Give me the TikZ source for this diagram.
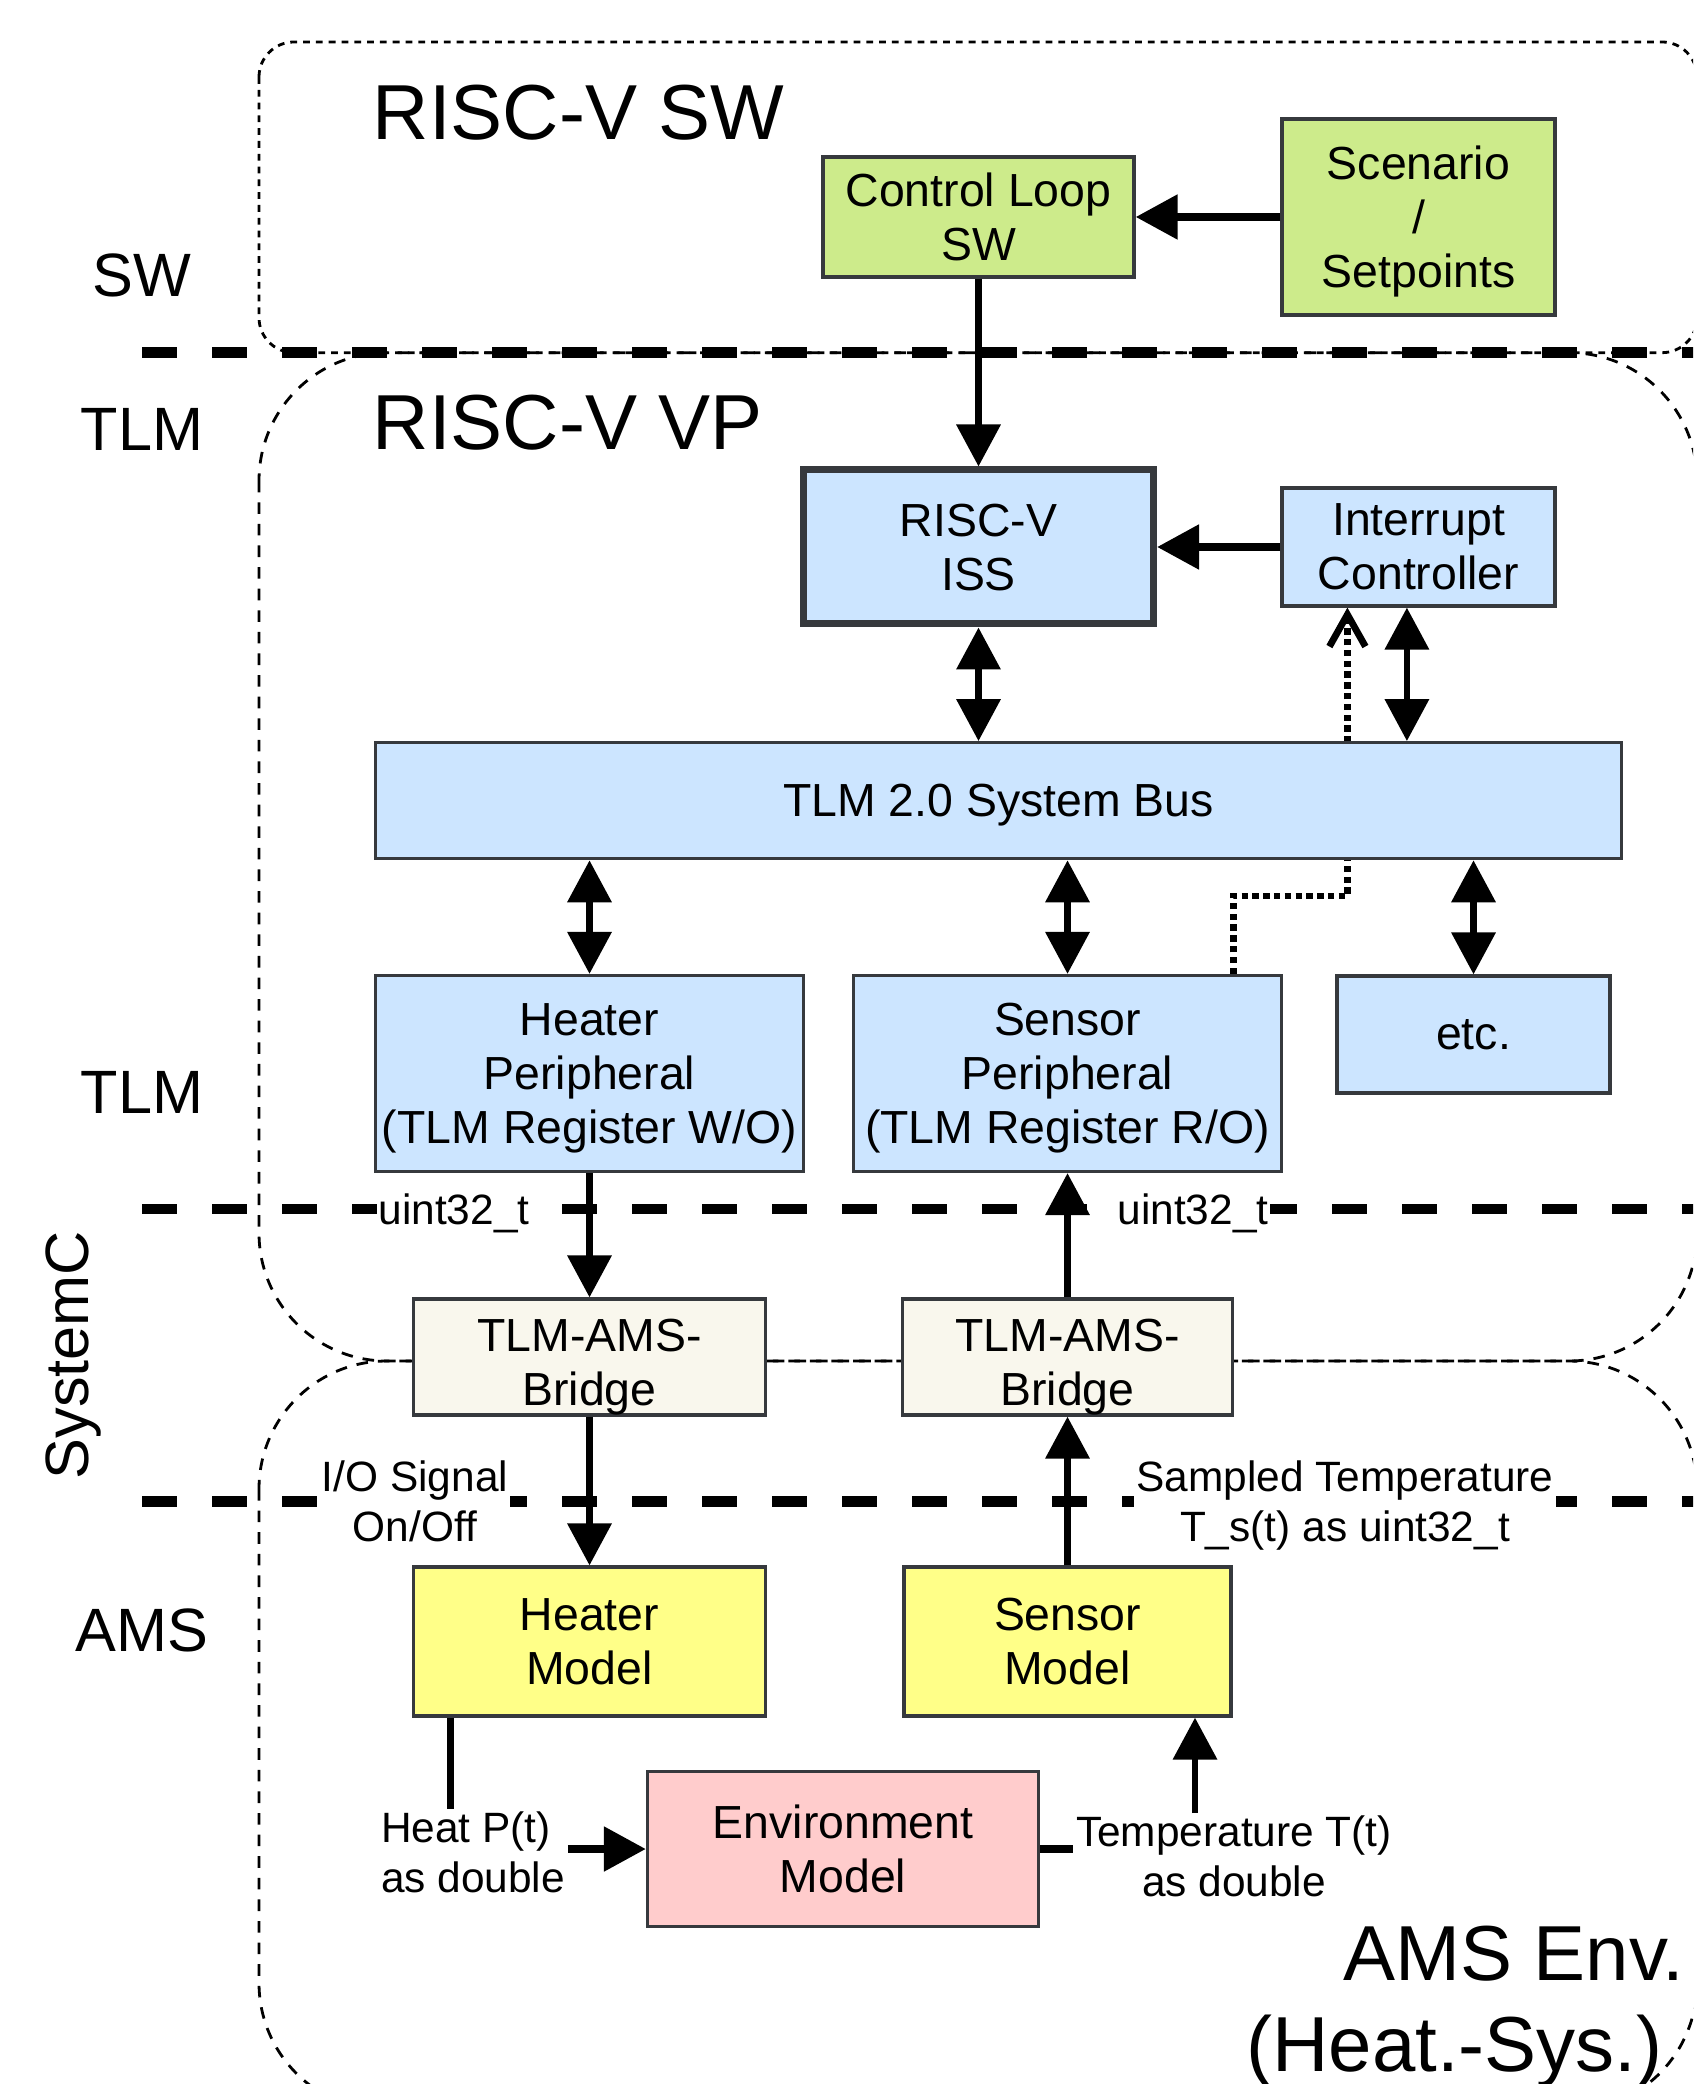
\documentclass[tikz,border=0pt]{standalone}
\usepackage{fontspec}
\setmainfont{Liberation Sans}
\usetikzlibrary{arrows.meta,backgrounds}

\definecolor{swgreen}{HTML}{CDEB8B}
\definecolor{vpblue}{HTML}{CCE5FF}
\definecolor{bridgecream}{HTML}{F9F7ED}
\definecolor{amsyellow}{HTML}{FFFF88}
\definecolor{envpink}{HTML}{FFCCCC}
\definecolor{edgegray}{HTML}{36393D}

\tikzset{
  blk/.style={draw=edgegray,line width=0.8pt,inner sep=0pt,text depth=0pt,align=center,font=\fontsize{11.6}{13.5}\selectfont},
  swblk/.style={blk,fill=swgreen},
  vpblk/.style={blk,fill=vpblue},
  brblk/.style={blk,fill=bridgecream,text height=24.4pt},
  amsblk/.style={blk,fill=amsyellow},
  envblk/.style={blk,fill=envpink},
  conn/.style={line width=1.7pt,-{Triangle[length=10.5pt,width=10.75pt]}},
  bidir/.style={line width=1.7pt,{Triangle[length=10.5pt,width=10.75pt]}-{Triangle[length=10.5pt,width=10.75pt]}},
  thickconn/.style={line width=2.1pt,-{Triangle[length=10.5pt,width=10.75pt]}},
  irqline/.style={line width=1.7pt,dash pattern=on 1.6pt off 1.1pt,-{Straight Barb[length=8pt,width=9pt]}},
  sigtext/.style={fill=white,inner sep=0.5pt,text depth=0pt,align=center,font=\fontsize{10.6}{12.4}\selectfont},
  layertext/.style={font=\fontsize{15.3}{18}\selectfont},
  grouptext/.style={inner sep=0pt,font=\fontsize{19.5}{22.75}\selectfont},
  layerline/.style={line width=2.7pt,dash pattern=on 8.75pt off 8.75pt},
  swgroup/.style={line width=0.7pt,dash pattern=on 1.7pt off 1.5pt,rounded corners=8.75pt},
  vpgroup/.style={line width=0.7pt,dash pattern=on 2.9pt off 2.5pt,rounded corners=32pt}
}

\begin{document}
\begin{tikzpicture}[x=0.25pt,y=-0.25pt]
\useasboundingbox (0,0) rectangle (1693,2084);
\clip (0,0) rectangle (1693,2084);
\draw[swgroup] (259,42) rectangle (1697,352.7);
\draw[vpgroup] (259,352.7) rectangle (1697,1361);
\draw[vpgroup] (259,1361) rectangle (1697,2111);
\draw[layerline] (142,352.7) -- (1700,352.7);
\draw[layerline] (142,1209) -- (1700,1209);
\draw[layerline] (142,1501.5) -- (1700,1501.5);
\node[layertext] (lsw) at (142,275) {SW};
\node[layertext] (ltlm) at (142,429) {TLM};
\node[layertext] (ltlmb) at (142,1092) {TLM};
\node[layertext,rotate=90,anchor=base] (lsysc) at (88,1355) {SystemC};
\node[layertext] (lams) at (142,1630) {AMS};
\node[grouptext,anchor=west] (swtitle) at (372,113) {RISC-V SW};
\node[grouptext,anchor=west] (vptitle) at (372,423) {RISC-V VP};
\node[grouptext,align=right,anchor=north east] (envtitle) at (1685,1925) {AMS Env.\\(Heat.-Sys.)\hspace*{0.278em}};
\node[swblk,minimum width=77.75pt,minimum height=30pt] (ctrl) at (978.5,217) {Control Loop\\SW};
\node[swblk,minimum width=68.25pt,minimum height=49pt] (scen) at (1418.5,217) {Scenario\\/\\Setpoints};
\node[vpblk,line width=1.75pt,minimum width=87.5pt,minimum height=38.5pt] (iss) at (978.5,547) {RISC-V\\ISS};
\node[vpblk,minimum width=68.25pt,minimum height=29.5pt] (intc) at (1418.5,547) {Interrupt\\Controller};
\node[vpblk,minimum width=311.5pt,minimum height=29pt] (bus) at (998.5,800.7) {TLM 2.0 System Bus};
\node[vpblk,minimum width=107pt,minimum height=49pt] (hper) at (589.5,1073.5) {Heater\\Peripheral\\(TLM Register W/O)};
\node[vpblk,minimum width=107pt,minimum height=49pt] (sper) at (1067.5,1073.5) {Sensor\\Peripheral\\(TLM Register R/O)};
\node[vpblk,minimum width=68.25pt,minimum height=29.25pt] (etc) at (1473.5,1034.5) {etc.};
\node[brblk,minimum width=88pt,minimum height=29pt] (brheat) at (589.5,1357) {TLM-AMS-\\Bridge};
\node[brblk,minimum width=82.5pt,minimum height=29pt] (brsens) at (1067.5,1357) {TLM-AMS-\\Bridge};
\node[amsblk,minimum width=88pt,minimum height=37.25pt] (heatmod) at (589.5,1641.5) {Heater\\Model};
\node[amsblk,minimum width=81.75pt,minimum height=37.25pt] (sensmod) at (1067.5,1641.5) {Sensor\\Model};
\node[envblk,minimum width=97.75pt,minimum height=38.75pt] (envmod) at (843,1849) {Environment\\Model};
\node[sigtext] (uintheat) at (454,1209) {uint32\_t};
\node[sigtext] (uintsens) at (1193,1209) {uint32\_t};
\node[sigtext] (iosig) at (415,1501) {I/O Signal\\On/Off};
\node[sigtext] (sampled) at (1345,1501) {Sampled Temperature\\T\_s(t) as uint32\_t};
\node[sigtext,align=left] (heatsig) at (473,1852) {Heat P(t)\\as double};
\node[sigtext] (tempsig) at (1234,1856) {Temperature T(t)\\as double};
\coordinate (intcport) at ([xshift=-2.9pt]intc.south);
\coordinate (irqsrc) at ([xshift=-12.5pt]sper.north east);
\coordinate (irqdst) at ([xshift=16.75pt]intc.south west);
\coordinate (heatout) at ([xshift=9.6pt]heatmod.south west);
\coordinate (tempin) at ([xshift=-9.4pt]sensmod.south east);
\draw[thickconn] (scen) -- (ctrl);
\draw[conn] (ctrl) -- (iss);
\draw[thickconn] (intc) -- (iss);
\draw[bidir] (iss) -- (iss |- bus.north);
\draw[bidir] (intcport) -- (intcport |- bus.north);
\begin{scope}[on background layer]
\draw[irqline] (irqsrc) -- ++(0,-78) -| (irqdst);
\end{scope}
\draw[bidir] (hper) -- (hper |- bus.south);
\draw[bidir] (sper) -- (sper |- bus.south);
\draw[bidir] (etc) -- (etc |- bus.south);
\draw[conn] (hper) -- (brheat);
\draw[conn] (brsens) -- (sper);
\draw[conn] (brheat) -- (heatmod);
\draw[conn] (sensmod) -- (brsens);
\draw[line width=1.7pt] (heatout) -- (heatout |- heatsig.north);
\draw[thickconn] (heatsig.east |- envmod.west) -- (envmod.west);
\draw[line width=2.1pt] (envmod.east) -- (envmod.east -| tempsig.west);
\draw[conn] (tempin |- tempsig.north) -- (tempin);
\end{tikzpicture}
\end{document}
